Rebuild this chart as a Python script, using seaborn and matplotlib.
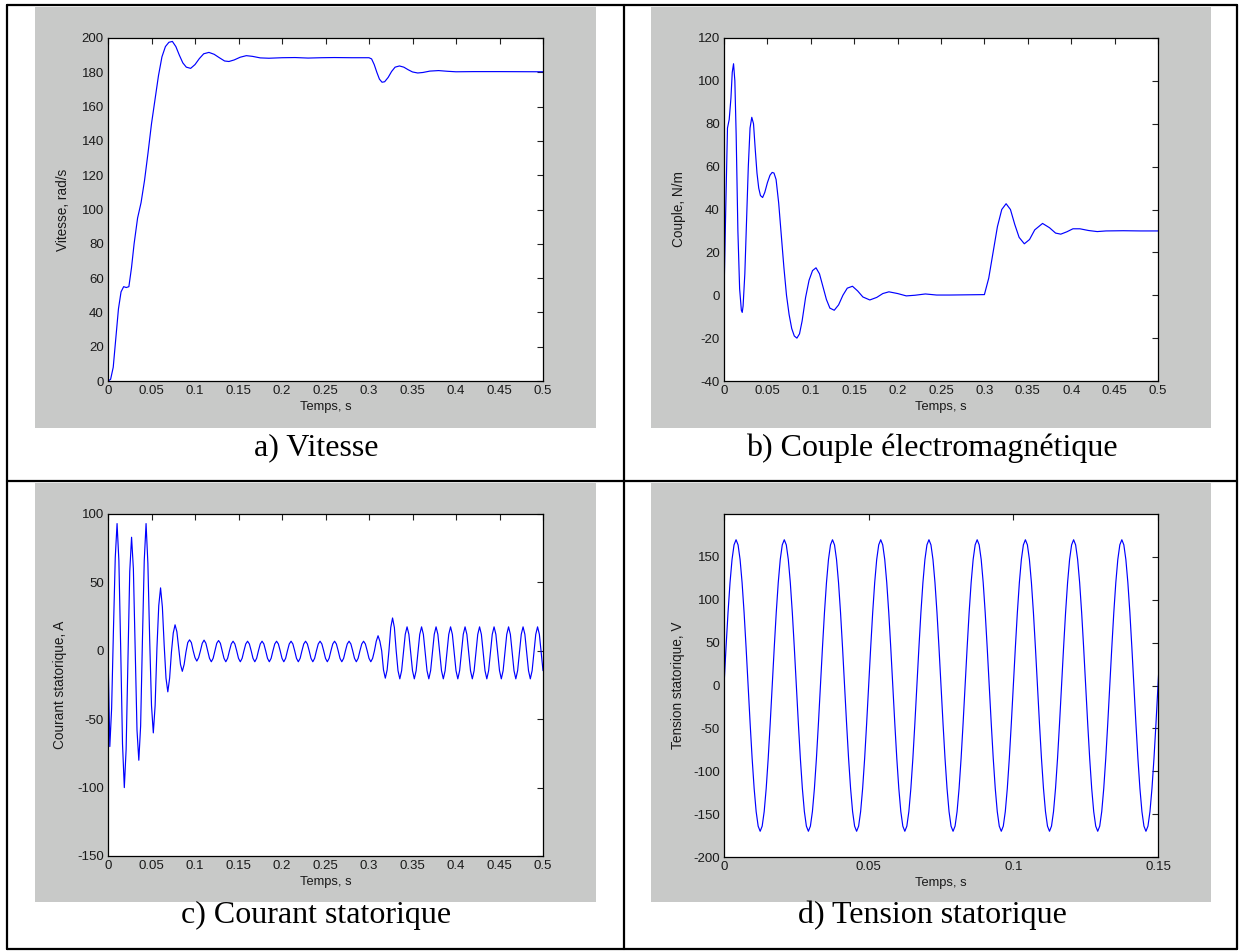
import numpy as np
import pandas as pd
import matplotlib
matplotlib.use("Agg")
import matplotlib.pyplot as plt
from matplotlib.patches import Rectangle
from matplotlib.lines import Line2D
import seaborn as sns

W, H = 1240, 951

# ── Data ──────────────────────────────────────────────────────

# a) speed (rad/s)
speed_t = [0, 0.003, 0.006, 0.009, 0.012, 0.015, 0.018, 0.021, 0.024, 0.027,
           0.030, 0.034, 0.038, 0.042, 0.046, 0.050, 0.054, 0.058, 0.062, 0.066,
           0.070, 0.074, 0.078, 0.082, 0.086, 0.090, 0.095, 0.100, 0.105, 0.110,
           0.116, 0.122, 0.128, 0.134, 0.139, 0.145, 0.152, 0.159, 0.166, 0.175,
           0.185, 0.200, 0.215, 0.230, 0.245, 0.260, 0.280, 0.300, 0.303, 0.306,
           0.309, 0.312, 0.315, 0.318, 0.322, 0.326, 0.330, 0.335, 0.340, 0.345,
           0.350, 0.356, 0.362, 0.370, 0.380, 0.390, 0.400, 0.420, 0.450, 0.500]
speed_v = [0, 1, 8, 25, 42, 52, 55, 54.5, 55, 66,
           80, 95, 104, 117, 133, 150, 164, 178, 189, 195,
           197.5, 198, 195, 190, 185.5, 183, 182.3, 184.5, 188, 190.8,
           191.6, 190.5, 188.5, 186.6, 186.3, 187.2, 188.8, 189.7, 189.3, 188.4,
           188.2, 188.5, 188.6, 188.3, 188.5, 188.6, 188.5, 188.5, 187.8, 184.5,
           180, 176, 174.2, 174.5, 177, 180.5, 183, 183.7, 183, 181.5,
           180.2, 179.6, 179.9, 180.7, 181, 180.6, 180.3, 180.4, 180.4, 180.3]

# b) electromagnetic torque (N/m)
torque_t = [0, 0.002, 0.004, 0.006, 0.008, 0.0095, 0.011, 0.0125, 0.014, 0.016,
            0.018, 0.020, 0.021, 0.022, 0.024, 0.026, 0.028, 0.030, 0.032, 0.034,
            0.036, 0.038, 0.040, 0.042, 0.0445, 0.047, 0.050, 0.053, 0.0555, 0.0576,
            0.060, 0.063, 0.066, 0.069, 0.072, 0.075, 0.078, 0.081, 0.084, 0.087,
            0.090, 0.094, 0.098, 0.102, 0.106, 0.110, 0.114, 0.118, 0.122, 0.127,
            0.132, 0.137, 0.142, 0.148, 0.154, 0.160, 0.168, 0.176, 0.183, 0.190,
            0.200, 0.210, 0.220, 0.232, 0.245, 0.260, 0.280, 0.300, 0.305, 0.310,
            0.315, 0.320, 0.325, 0.330, 0.335, 0.340, 0.346, 0.352, 0.358, 0.367,
            0.375, 0.382, 0.388, 0.395, 0.402, 0.410, 0.420, 0.430, 0.440, 0.460,
            0.480, 0.500]
torque_v = [0, 40, 78, 82, 92, 104, 108, 100, 75, 30,
            3, -7, -8, -5, 10, 35, 60, 78, 83, 80,
            68, 57, 50, 46.5, 45.6, 48, 52.5, 56, 57.3, 57,
            54, 43, 28, 13, 0, -9, -15.5, -19, -20, -18,
            -12, -1, 7, 11.5, 12.8, 10, 4, -2, -6, -7,
            -4.5, 0, 3.3, 4.2, 2, -0.8, -2.2, -1, 0.8, 1.6,
            0.8, -0.3, 0, 0.6, 0.1, 0.1, 0.2, 0.3, 8, 20,
            32, 40, 42.7, 40, 33, 27, 24, 26, 30.5, 33.5,
            31.5, 29, 28.5, 29.6, 31, 31, 30.2, 29.7, 30, 30.1,
            30, 30]

# c) stator current (A), one sample every 1/480 s, one period per row
current_step = 1 / 480
current_v = [
    0, -70, -42, 15, 68, 93, 66, 2,
    -68, -100, -72, -5, 58, 83, 60, 0,
    -58, -80, -55, 8, 66, 93, 64, 8,
    -40, -60, -40, 2, 33, 46, 32, 4,
    -20, -30, -20, -1, 13, 19, 14, 2,
    -10, -15, -10, -1, 6, 8, 6, 0,
    -5, -7.5, -5, 0, 5.5, 7.8, 5.5, 0,
    -5.5, -8, -5.5, 0, 5.5, 7.5, 5.5, 0,
    -5.5, -8, -5.5, 0, 5, 7, 5, 0,
    -5.5, -8, -5.5, 0, 5, 7, 5, 0,
    -5.5, -8, -5.5, 0, 5, 7, 5, 0,
    -5.5, -8, -5.5, 0, 5, 7, 5, 0,
    -5.5, -8, -5.5, 0, 5, 7, 5, 0,
    -5.5, -8, -5.5, 0, 5, 7, 5, 0,
    -5.5, -8, -5.5, 0, 5, 7, 5, 0,
    -5.5, -8, -5.5, 0, 5, 7, 5, 0,
    -5.5, -8, -5.5, 0, 5, 7, 5, 0,
    -5.5, -8, -5.5, 0, 5, 7, 5, 0,
    -5.5, -8, -5.5, 0, 7, 11, 7, 0,
    -14, -20, -14, 0, 17, 24, 17, 0,
    -14.5, -20.5, -14.5, -1, 12, 17.5, 12, -1,
    -14.5, -20.5, -14.5, -1, 12, 17.5, 12, -1,
    -14.5, -20.5, -14.5, -1, 12, 17.5, 12, -1,
    -14.5, -20.5, -14.5, -1, 12, 17.5, 12, -1,
    -14.5, -20.5, -14.5, -1, 12, 17.5, 12, -1,
    -14.5, -20.5, -14.5, -1, 12, 17.5, 12, -1,
    -14.5, -20.5, -14.5, -1, 12, 17.5, 12, -1,
    -14.5, -20.5, -14.5, -1, 12, 17.5, 12, -1,
    -14.5, -20.5, -14.5, -1, 12, 17.5, 12, -1,
    -14.5, -20.5, -14.5, -1, 12, 17.5, 12, -1,
    -14.5,
]

# d) stator voltage (V), one sample every 1/1440 s, one period per row
voltage_step = 1 / 1440
voltage_v = [
    0, 44, 85, 120, 147, 164, 170, 164, 147, 120, 85, 44, 0, -44, -85, -120, -147, -164, -170, -164, -147, -120, -85, -44,
    0, 44, 85, 120, 147, 164, 170, 164, 147, 120, 85, 44, 0, -44, -85, -120, -147, -164, -170, -164, -147, -120, -85, -44,
    0, 44, 85, 120, 147, 164, 170, 164, 147, 120, 85, 44, 0, -44, -85, -120, -147, -164, -170, -164, -147, -120, -85, -44,
    0, 44, 85, 120, 147, 164, 170, 164, 147, 120, 85, 44, 0, -44, -85, -120, -147, -164, -170, -164, -147, -120, -85, -44,
    0, 44, 85, 120, 147, 164, 170, 164, 147, 120, 85, 44, 0, -44, -85, -120, -147, -164, -170, -164, -147, -120, -85, -44,
    0, 44, 85, 120, 147, 164, 170, 164, 147, 120, 85, 44, 0, -44, -85, -120, -147, -164, -170, -164, -147, -120, -85, -44,
    0, 44, 85, 120, 147, 164, 170, 164, 147, 120, 85, 44, 0, -44, -85, -120, -147, -164, -170, -164, -147, -120, -85, -44,
    0, 44, 85, 120, 147, 164, 170, 164, 147, 120, 85, 44, 0, -44, -85, -120, -147, -164, -170, -164, -147, -120, -85, -44,
    0, 44, 85, 120, 147, 164, 170, 164, 147, 120, 85, 44, 0, -44, -85, -120, -147, -164, -170, -164, -147, -120, -85, -44,
    0, 44, 85, 120,
]

time_ticks_05 = [0, 0.05, 0.1, 0.15, 0.2, 0.25, 0.3, 0.35, 0.4, 0.45, 0.5]
time_labels_05 = ["0", "0.05", "0.1", "0.15", "0.2", "0.25", "0.3", "0.35", "0.4", "0.45", "0.5"]
time_ticks_015 = [0, 0.05, 0.1, 0.15]
time_labels_015 = ["0", "0.05", "0.1", "0.15"]

speed_ticks = list(range(0, 201, 20))
torque_ticks = list(range(-40, 121, 20))
current_ticks = [-150, -100, -50, 0, 50, 100]
voltage_ticks = [-200, -150, -100, -50, 0, 50, 100, 150]

captions = ["a) Vitesse", "b) Couple électromagnétique",
            "c) Courant statorique", "d) Tension statorique"]
ylabels = ["Vitesse, rad/s", "Couple, N/m",
           "Courant statorique, A", "Tension statorique, V"]
xlabel = "Temps, s"


# ── Helpers ───────────────────────────────────────────────────

def fig_box(x0, y0, x1, y1):
    """pixel box (top-left origin) -> figure fraction [l, b, w, h]"""
    return [x0 / W, 1 - y1 / H, (x1 - x0) / W, (y1 - y0) / H]


def style_axes(ax, xticks, xlabels, yticks, xlim, ylim, ylab, ylab_x):
    ax.set_facecolor("white")
    ax.set_xlim(*xlim)
    ax.set_ylim(*ylim)
    ax.set_xticks(xticks)
    ax.set_xticklabels(xlabels)
    ax.set_yticks(yticks)
    ax.set_yticklabels([str(v) for v in yticks])
    ax.tick_params(direction="in", length=4, width=0.8, top=True, right=True,
                   labelsize=9.5, labelcolor="#1a1a1a", color="#222222", pad=3)
    for sp in ax.spines.values():
        sp.set_visible(True)
        sp.set_color("black")
        sp.set_linewidth(0.9)
    ax.set_xlabel(xlabel, fontsize=9.3, color="#1a1a1a", labelpad=3)
    ax.set_ylabel(ylab, fontsize=9.8, color="#1a1a1a")
    ax.yaxis.set_label_coords(ylab_x, 0.5)
    ax.grid(False)


# ── Figure ────────────────────────────────────────────────────

sns.set_style("white")
plt.rcParams["font.family"] = ["Liberation Sans", "DejaVu Sans"]

fig = plt.figure(figsize=(W / 100, H / 100), dpi=100)
fig.patch.set_facecolor("white")

gray_boxes = [(35, 7, 596, 428), (651, 7, 1211, 428),
              (35, 483, 596, 902), (651, 483, 1211, 902)]
for box in gray_boxes:
    l, b, w, h = fig_box(*box)
    fig.add_artist(Rectangle((l, b), w, h, transform=fig.transFigure,
                             facecolor="#c8c9c8", edgecolor="none", zorder=0))

axes_boxes = [(108, 38, 543, 381), (724, 38, 1158, 381),
              (108, 514, 543, 856), (724, 514, 1158, 857)]
axs = [fig.add_axes(fig_box(*b)) for b in axes_boxes]

df_speed = pd.DataFrame({"t": speed_t, "v": speed_v})
df_torque = pd.DataFrame({"t": torque_t, "v": torque_v})
df_current = pd.DataFrame({"t": np.arange(len(current_v)) * current_step, "v": current_v})
df_voltage = pd.DataFrame({"t": np.arange(len(voltage_v)) * voltage_step, "v": voltage_v})

line_kw = dict(x="t", y="v", color="#0000ff", linewidth=0.85,
               estimator=None, sort=False, legend=False)
sns.lineplot(data=df_speed, ax=axs[0], **line_kw)
sns.lineplot(data=df_torque, ax=axs[1], **line_kw)
sns.lineplot(data=df_current, ax=axs[2], **line_kw)
sns.lineplot(data=df_voltage, ax=axs[3], **line_kw)

style_axes(axs[0], time_ticks_05, time_labels_05, speed_ticks, (0, 0.5), (0, 200), ylabels[0], -0.087)
style_axes(axs[1], time_ticks_05, time_labels_05, torque_ticks, (0, 0.5), (-40, 120), ylabels[1], -0.088)
style_axes(axs[2], time_ticks_05, time_labels_05, current_ticks, (0, 0.5), (-150, 100), ylabels[2], -0.094)
style_axes(axs[3], time_ticks_015, time_labels_015, voltage_ticks, (0, 0.15), (-200, 200), ylabels[3], -0.090)

# table borders
lw_tab = 1.6
table_lines = [
    ((7, 5), (1237, 5)), ((7, 949), (1237, 949)),
    ((7, 5), (7, 949)), ((1237, 5), (1237, 949)),
    ((624, 5), (624, 949)), ((7, 481), (1237, 481)),
]
for (x0, y0), (x1, y1) in table_lines:
    fig.add_artist(Line2D([x0 / W, x1 / W], [1 - y0 / H, 1 - y1 / H],
                          transform=fig.transFigure, color="black", linewidth=lw_tab))

# captions
caption_pos = [(316, 448), (932, 448), (316, 915), (932, 915)]
for txt, (cx, cy) in zip(captions, caption_pos):
    fig.text(cx / W, 1 - cy / H, txt, ha="center", va="center", fontsize=23,
             family=["Liberation Serif", "DejaVu Serif"], color="black")

fig.savefig("out.png", dpi=100, facecolor="white")
